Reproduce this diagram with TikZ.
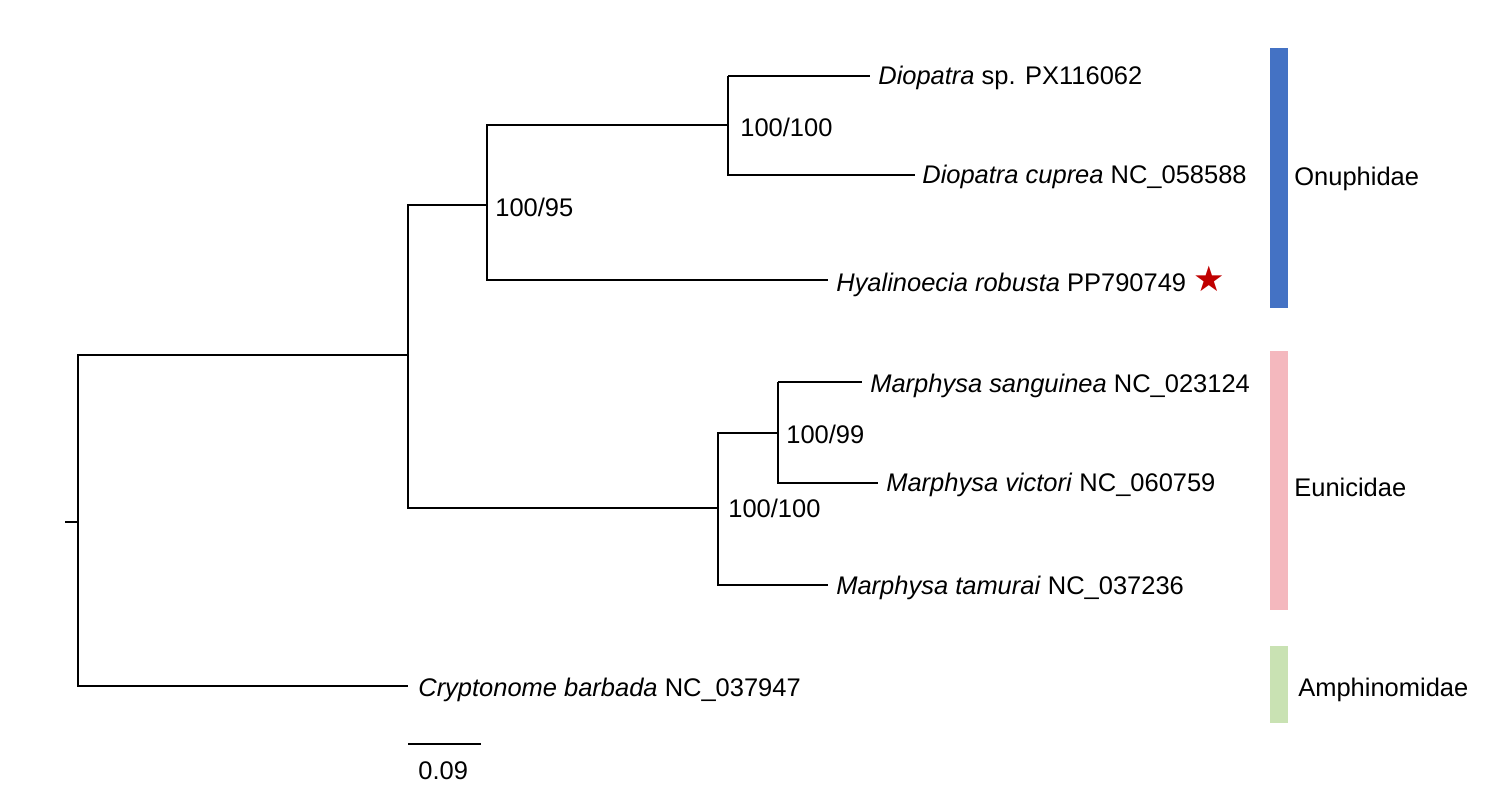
\documentclass[tikz,border=0pt]{standalone}
\usepackage{fontspec}
\setmainfont{Liberation Sans}
\newfontfamily\symfont{DejaVu Sans}
\begin{document}
\begin{tikzpicture}[x=0.02cm, y=-0.02cm]
	\tikzset{leaf/.style={anchor=west, inner sep=0pt, font=\fontsize{14.5}{17}\selectfont},
		supp/.style={anchor=west, inner sep=0pt, font=\fontsize{14.5}{17}\selectfont},
		branch/.style={black, line width=0.6pt}}
	\useasboundingbox (0,0) rectangle (1508,798);

	% internal nodes
	\coordinate (root) at (78,522);
	\coordinate (n1) at (408,355);
	\coordinate (n2) at (487,205);
	\coordinate (n3) at (728,125);
	\coordinate (n4) at (718,508);
	\coordinate (n5) at (778,433);
	\coordinate (out) at (408,686);
	\coordinate (stub) at (65,522);

	% leaves
	\node[leaf] (l1) at (878,78) {\textit{Diopatra} sp. PX116062};
	\node[leaf] (l2) at (922,177) {\textit{Diopatra cuprea} NC\_058588};
	\node[leaf] (l3) at (836,281) {\textit{Hyalinoecia robusta} PP790749 {\color[HTML]{C00000}\symfont\fontsize{20}{20}\selectfont ★}};
	\node[leaf] (l4) at (870,386) {\textit{Marphysa sanguinea} NC\_023124};
	\node[leaf] (l5) at (886,485) {\textit{Marphysa victori} NC\_060759};
	\node[leaf] (l6) at (836,588) {\textit{Marphysa tamurai} NC\_037236};
	\node[leaf] (l7) at (418,690) {\textit{Cryptonome barbada} NC\_037947};

	% branches
	\draw[branch] (stub) -- (root);
	\draw[branch] (n1) -| (root |- n1) -- (root |- out) -- (out);
	\draw[branch] (n2) -| (n1 |- n2) -- (n1 |- n4) -- (n4);
	\draw[branch] (n3) -| (n2 |- n3) -- (n2 |- 0,280) -- (828,280);
	\draw[branch] (n3 |- 0,76) -- (870,76);
	\draw[branch] (n3 |- 0,76) -- (n3 |- 0,175) -- (915,175);
	\draw[branch] (n5) -| (n4 |- n5) -- (n4 |- 0,585) -- (828,585);
	\draw[branch] (n5 |- 0,382) -- (862,382);
	\draw[branch] (n5 |- 0,382) -- (n5 |- 0,483) -- (878,483);

	% support values
	\node[supp] (s3) at (740,127) {100/100};
	\node[supp] (s2) at (495,207) {100/95};
	\node[supp] (s5) at (786,434) {100/99};
	\node[supp] (s4) at (728,508) {100/100};

	% families
	\fill[fill={rgb,255:red,68;green,114;blue,196}] (1270,48) rectangle (1288,308);
	\fill[fill={rgb,255:red,244;green,184;blue,190}] (1270,351) rectangle (1288,610);
	\fill[fill={rgb,255:red,201;green,226;blue,179}] (1270,646) rectangle (1288,723);
	\node[leaf] (f1) at (1294,179) {Onuphidae};
	\node[leaf] (f2) at (1294,487) {Eunicidae};
	\node[leaf] (f3) at (1298,690) {Amphinomidae};

	% scale
	\draw[branch] (408,744) -- (481,744);
	\node[leaf] (sc) at (418,771) {0.09};
\end{tikzpicture}
\end{document}
